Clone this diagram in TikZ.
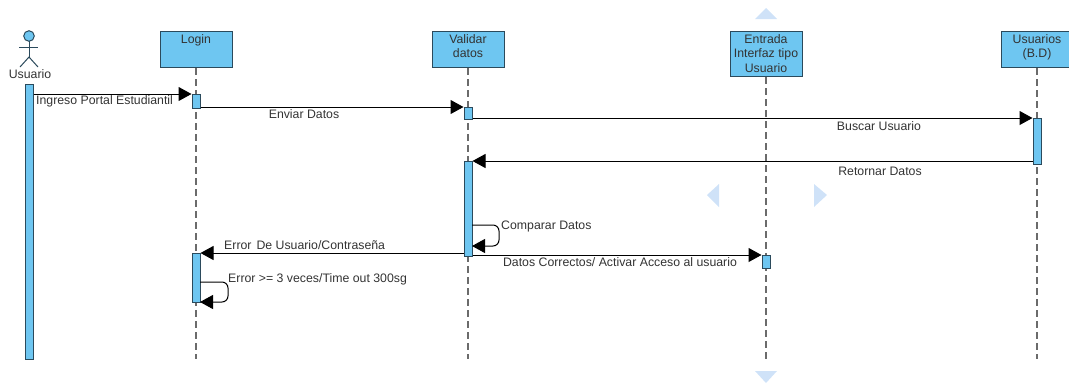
\documentclass[tikz,border=0pt]{standalone}
\usepackage{fontspec}
\setmainfont{Liberation Sans}
\usetikzlibrary{arrows.meta}
\definecolor{azul}{HTML}{6EC6F1}
\definecolor{borde}{HTML}{2B4A5C}
\definecolor{texto}{HTML}{333333}
\definecolor{guia}{HTML}{CFE2F8}
\tikzset{
    lifebox/.style={draw=borde,fill=azul,line width=1pt,minimum width=72pt,minimum height=36pt,anchor=north,inner sep=0pt},
    boxtext/.style={anchor=north,align=center,text=texto,inner sep=0pt,yshift=-3pt,font=\fontsize{12.3}{14.5}\selectfont},
    activebar/.style={draw=borde,fill=azul,line width=1pt,minimum width=8pt,anchor=north,inner sep=0pt},
    lifeline/.style={draw=black!58,line width=1.2pt,dash pattern=on 7pt off 4pt},
    msg/.style={draw=black,line width=1pt,-{Triangle[length=13pt,width=14pt]}},
    msgtext/.style={text=texto,inner sep=0pt,font=\fontsize{12.3}{14}\selectfont}
}

\begin{document}
\begin{tikzpicture}[x=1pt,y=-1pt]
    \clip (0,0) rectangle (1069,384);
    \coordinate (fin) at (0,359);

    % Pale guide triangles
    \fill[guia] (766,8) -- (777,19) -- (755,19) -- cycle;
    \fill[guia] (766,383) -- (755,371) -- (777,371) -- cycle;
    \fill[guia] (707,195) -- (719,184) -- (719,207) -- cycle;
    \fill[guia] (827,195) -- (814,184) -- (814,207) -- cycle;

    % Actor
    \draw[borde,line width=1pt] (29,41) -- (29,57);
    \draw[borde,line width=1pt] (19,47) -- (38,47);
    \draw[borde,line width=1pt] (20,67) -- (29,57) -- (38,67);
    \draw[borde,fill=azul,line width=1pt] (29,36) circle (5.3);
    \node[msgtext] (usuario) at (30,74) {Usuario};

    % Lifeline heads
    \node[lifebox,label={[boxtext]north:Login}] (login) at (196,31) {};
    \node[lifebox,label={[boxtext]north:Validar\\datos}] (validar) at (468,31) {};
    \node[lifebox,minimum height=45pt,label={[boxtext]north:Entrada\\Interfaz tipo\\Usuario}] (entrada) at (766,31) {};
    \node[lifebox,label={[boxtext]north:Usuarios\\(B.D)}] (bd) at (1037,31) {};

    % Dashed lifelines
    \draw[lifeline] (login.south) -- (login.south |- fin);
    \draw[lifeline] (validar.south) -- (validar.south |- fin);
    \draw[lifeline] (entrada.south) -- (entrada.south |- fin);
    \draw[lifeline] (bd.south) -- (bd.south |- fin);

    % Activation bars
    \node[activebar,minimum height=275pt] (barusuario) at (29,84) {};
    \node[activebar,minimum height=14pt] (barlogin) at (196,94) {};
    \node[activebar,minimum height=12pt] (barvalidar) at (468,107) {};
    \node[activebar,minimum height=46pt] (barbd) at (1037,118) {};
    \node[activebar,minimum height=95pt] (barcompara) at (468,161) {};
    \node[activebar,minimum height=49pt] (barerror) at (196,253) {};
    \node[activebar,minimum height=13pt] (barentrada) at (766,255) {};

    % Messages
    \draw[msg] (barusuario.east |- barlogin.north) -- (barlogin.north west);
    \draw[msg] (barlogin.east |- barvalidar.north) -- (barvalidar.north west);
    \draw[msg] (barvalidar.east |- barbd.north) -- (barbd.north west);
    \draw[msg] (barbd.west |- barcompara.north) -- (barcompara.north east);
    \draw[msg] (barcompara.west |- barerror.north) -- (barerror.north east);
    \draw[msg] (barcompara.east |- barentrada.north) -- (barentrada.north west);

    % Messages to self
    \coordinate (comparaa) at (472,225);
    \coordinate (comparab) at (472,246);
    \coordinate (errora) at (200,282);
    \coordinate (errorb) at (200,302);
    \draw[msg,rounded corners=6pt] (comparaa) -- ++(27,0) -- ++(0,21) -- (comparab);
    \draw[msg,rounded corners=6pt] (errora) -- ++(28,0) -- ++(0,20) -- (errorb);

    % Message labels
    \node[msgtext,anchor=west] (ingreso) at (36,101) {Ingreso Portal Estudiantil};
    \node[msgtext] (enviar) at (304,114) {Enviar Datos};
    \node[msgtext] (buscar) at (879,126) {Buscar Usuario};
    \node[msgtext] (retornar) at (880,171) {Retornar Datos};
    \node[msgtext,anchor=west] (comparar) at (501,226) {Comparar Datos};
    \node[msgtext,anchor=west] (errorusuario) at (224,245.5) {Error\hspace{5pt}De Usuario/Contraseña};
    \node[msgtext] (correctos) at (620,262) {Datos Correctos/ Activar Acceso al usuario};
    \node[msgtext,anchor=west] (errorveces) at (228,279) {Error >= 3 veces/Time out 300sg};
\end{tikzpicture}
\end{document}
